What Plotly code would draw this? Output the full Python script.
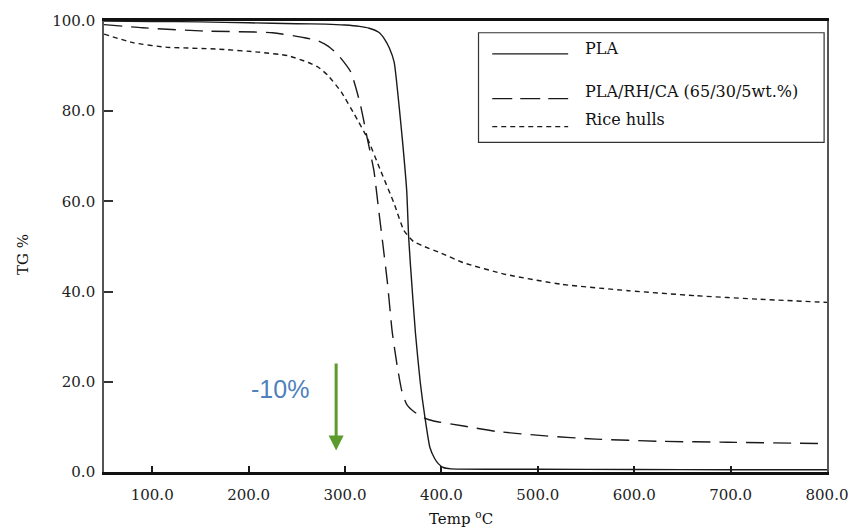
import plotly.graph_objects as go

# ---- data ----
pla_temp = [50, 100, 150, 200, 250, 280, 300, 315, 325, 335, 341, 346, 351, 356, 360, 364,
            366, 368, 373, 378, 383, 388, 393, 397, 402, 410, 500, 600, 700, 800]
pla_tg = [100.0, 99.9, 99.8, 99.6, 99.4, 99.3, 99.1, 98.8, 98.4, 97.5, 96.0, 94.0, 90.9, 81.4,
          72.6, 62.4, 52.2, 45.6, 31.0, 20.0, 12.0, 5.5, 3.0, 1.8, 1.0, 0.7, 0.6, 0.55, 0.5, 0.5]

comp_temp = [50, 90, 150, 225, 258, 272, 282, 292, 306, 316, 323, 330, 335, 339, 344, 349,
             354, 359, 364, 372, 382, 392, 423, 457, 508, 560, 628, 697, 800]
comp_tg = [99.2, 98.5, 97.8, 97.4, 96.3, 95.6, 94.5, 92.7, 88.7, 81.4, 74.1, 66.8, 58.0, 51.0,
           42.0, 31.0, 23.7, 17.9, 15.0, 13.3, 12.0, 11.3, 10.2, 9.0, 8.0, 7.3, 6.8, 6.6, 6.3]

rh_temp = [50, 80, 114, 166, 210, 241, 262, 272, 282, 296, 310, 323, 337, 351, 361, 371,
           380, 400, 423, 467, 525, 594, 663, 731, 800]
rh_tg = [97.1, 95.2, 94.2, 93.8, 93.1, 92.3, 90.8, 89.8, 88.0, 84.3, 79.2, 74.1, 66.8, 59.5,
         53.6, 51.1, 50.2, 48.5, 46.4, 43.8, 41.6, 40.2, 39.1, 38.3, 37.6]

series_names = ["PLA", "PLA/RH/CA (65/30/5wt.%)", "Rice hulls"]
series_dash = ["solid", "18px,9px", "5px,4px"]

x_ticks = [100, 200, 300, 400, 500, 600, 700, 800]
x_tick_labels = ["100.0", "200.0", "300.0", "400.0", "500.0", "600.0", "700.0", "800.0"]
y_ticks = [0, 20, 40, 60, 80, 100]
y_tick_labels = ["0.0", "20.0", "40.0", "60.0", "80.0", "100.0"]

arrow_x = 290.8
arrow_top = 24.5
arrow_tip = 4.75
note_text = "-10%"
note_x, note_y = 233, 18.5

LINE = "#1a1a1a"
SERIF = "DejaVu Serif"

fig = go.Figure()
for name, xs, ys, dash in zip(series_names, [pla_temp, comp_temp, rh_temp],
                              [pla_tg, comp_tg, rh_tg], series_dash):
    fig.add_trace(go.Scatter(x=xs, y=ys, mode="lines", name=name,
                             line=dict(color=LINE, width=1.4, dash=dash, shape="spline",
                                       smoothing=0.5),
                             showlegend=False))

# manual legend box (mimics the reference style)
shapes = [dict(type="rect", xref="paper", yref="paper", x0=0.518, x1=0.996,
               y0=0.731, y1=0.974, line=dict(color="#333", width=1.2),
               fillcolor="white", layer="above")]
annotations = []
leg_line_y = [0.927, 0.828, 0.766]
leg_text_y = [0.938, 0.843, 0.782]
for name, dash, ly, ty in zip(series_names, series_dash, leg_line_y, leg_text_y):
    ldash = "20px,8px" if dash.startswith("18") else dash
    shapes.append(dict(type="line", xref="paper", yref="paper", x0=0.537, x1=0.642,
                       y0=ly, y1=ly, line=dict(color=LINE, width=1.3, dash=ldash),
                       layer="above"))
    annotations.append(dict(xref="paper", yref="paper", x=0.663, y=ty, text=name,
                            showarrow=False, xanchor="left", yanchor="middle",
                            font=dict(family=SERIF, size=16, color="#111")))

# axis titles
annotations.append(dict(xref="paper", yref="paper", x=0.494, y=-0.103,
                        xanchor="center", yanchor="middle",
                        text="Temp <sup>o</sup>C", showarrow=False,
                        font=dict(family=SERIF, size=15, color="#111")))
annotations.append(dict(xref="paper", yref="paper", x=-0.112, y=0.481,
                        xanchor="center", yanchor="middle",
                        text="TG %", showarrow=False, textangle=-90,
                        font=dict(family=SERIF, size=15, color="#111")))

# green arrow and note
annotations.append(dict(x=arrow_x, y=arrow_tip, ax=arrow_x, ay=arrow_top,
                        xref="x", yref="y", axref="x", ayref="y", text=" ",
                        font=dict(size=1),
                        showarrow=True, arrowhead=2, arrowsize=1, arrowwidth=3,
                        arrowcolor="#5A9B2B", standoff=0))
annotations.append(dict(x=note_x, y=note_y, xref="x", yref="y", text=note_text,
                        showarrow=False,
                        font=dict(family="Liberation Sans", size=25, color="#4F81BD")))

fig.update_layout(
    width=860, height=531,
    margin=dict(l=104, r=25, t=15, b=59),
    paper_bgcolor="white", plot_bgcolor="white",
    shapes=shapes, annotations=annotations,
    xaxis=dict(range=[50, 800], tickvals=x_ticks, ticktext=x_tick_labels,
               ticks="inside", ticklen=6, tickwidth=1.5, tickcolor=LINE,
               showline=True, linewidth=3, linecolor="#111", mirror=True,
               showgrid=False, zeroline=False, ticklabelstandoff=7,
               tickfont=dict(family=SERIF, size=15, color="#222")),
    yaxis=dict(range=[0, 100], tickvals=y_ticks, ticktext=y_tick_labels,
               ticks="inside", ticklen=9, tickwidth=1.5, tickcolor="#333",
               showline=True, linewidth=1.6, linecolor="#555", mirror=True,
               showgrid=False, zeroline=False, ticklabelstandoff=4,
               tickfont=dict(family=SERIF, size=15, color="#222")),
)

fig.write_html("out.html", config={"displayModeBar": False},
               post_script=("document.documentElement.style.overflow='hidden';"
                            "document.body.style.overflow='hidden';"
                            "document.body.style.margin='0';document.body.style.padding='0';"))
